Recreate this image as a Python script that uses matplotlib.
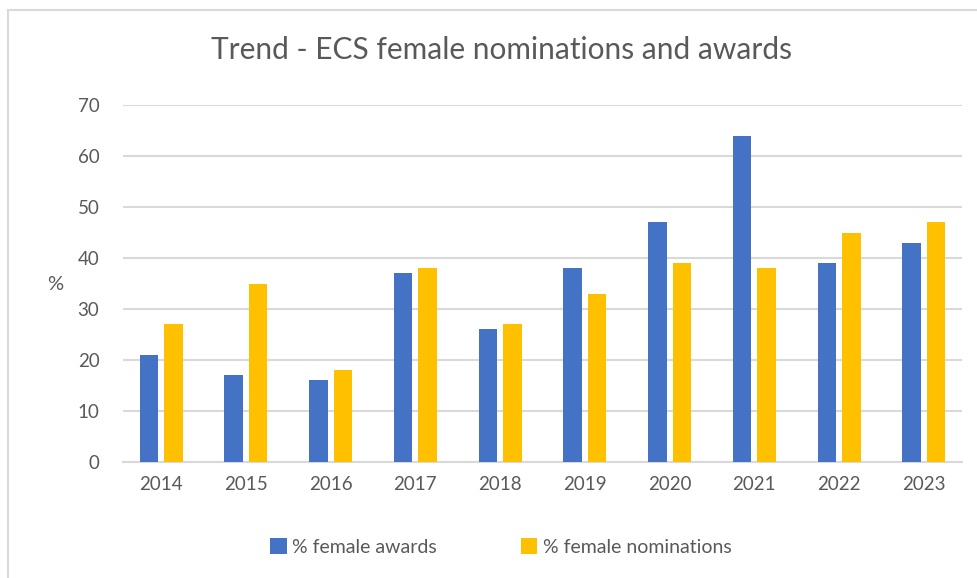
import matplotlib.pyplot as plt
import numpy as np
from matplotlib.patches import Rectangle

years = ["2014", "2015", "2016", "2017", "2018", "2019", "2020", "2021", "2022", "2023"]
awards = [21, 17, 16, 37, 26, 38, 47, 64, 39, 43]
nominations = [27, 35, 18, 38, 27, 33, 39, 38, 45, 47]

BLUE = "#4472C4"
GOLD = "#FFC000"
TEXT = "#595959"
GRID = "#D9D9D9"

plt.rcParams["font.family"] = ["Lato", "DejaVu Sans"]

fig = plt.figure(figsize=(9.78, 5.78), dpi=100)
# light chart border (cut off at right/bottom like the screenshot)
fig.patches.append(Rectangle((8 / 978, -0.1), 1.2, 1 - 10 / 578 + 0.1,
                             transform=fig.transFigure, fill=False,
                             edgecolor=GRID, lw=1.5))

ax = fig.add_axes([123 / 978, 1 - 462 / 578, (962 - 123) / 978, (462 - 105) / 578])
x = np.arange(len(years))
w = 0.22
ax.bar(x - 0.145, awards, w, color=BLUE, label="% female awards", zorder=3)
ax.bar(x + 0.145, nominations, w, color=GOLD, label="% female nominations", zorder=3)

ax.set_xlim(-0.45, len(years) - 0.55)
ax.set_ylim(0, 70)
ax.set_yticks(range(0, 71, 10))
ax.set_xticks(x)
ax.set_xticklabels(years)
ax.yaxis.grid(True, color=GRID, lw=1.5, zorder=0)
ax.tick_params(length=0, labelsize=13.5, labelcolor=TEXT, pad=10)
ax.tick_params(axis="y", pad=17)
for side in ["top", "right", "left"]:
    ax.spines[side].set_visible(False)
ax.spines["bottom"].set_color(GRID)
ax.spines["bottom"].set_linewidth(1.5)

fig.text(55 / 978, 1 - 285 / 578, "%", fontsize=14.5, color=TEXT, ha="center", va="center")
fig.text(502 / 978, 1 - 50 / 578, "Trend - ECS female nominations and awards",
         fontsize=21.5, color=TEXT, ha="center", va="center")

fig.legend(loc="center", bbox_to_anchor=(501 / 978, 1 - 547 / 578), ncol=2, frameon=False,
           fontsize=14, labelcolor=TEXT, handlelength=0.85, handleheight=0.85,
           handletextpad=0.3, columnspacing=4.3)

fig.savefig("out.png", dpi=100)
